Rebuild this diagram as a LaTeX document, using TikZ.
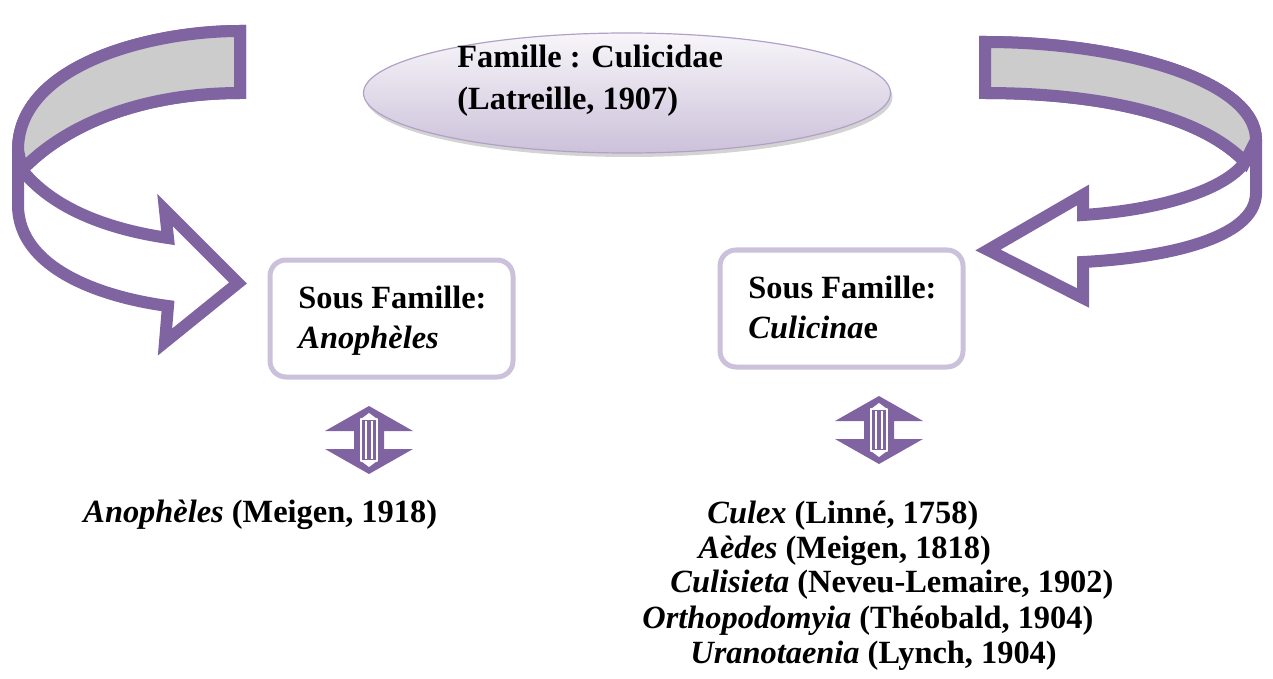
\documentclass[tikz,border=0pt]{standalone}
\usepackage{fontspec}
\setmainfont{Liberation Serif}
\usetikzlibrary{shapes.geometric,shadows}
\definecolor{violetfonce}{HTML}{8064A2}
\definecolor{lilas}{HTML}{CCC1DA}
\definecolor{lilasbord}{HTML}{B2A1C7}
\definecolor{grisruban}{HTML}{CCCCCC}
\tikzset{
	ruban/.style={draw=violetfonce, line width=6pt, line join=miter},
	sousfam/.style={draw=lilas, line width=2.5pt, rounded corners=8pt, fill=white, minimum width=121.5pt, minimum height=58.5pt},
	texte/.style={anchor=base west, inner sep=0pt, font=\fontsize{16.2}{21}\selectfont\bfseries},
}
\begin{document}
\begin{tikzpicture}[x=0.5pt, y=-0.5pt, line join=round]
	\def\fleche#1#2{%
		\begin{scope}[shift={(#1,#2)}]
			\fill[violetfonce] (0,-34)--(44,-9)--(15,-9)--(15,9)--(44,9)--(0,34)--(-44,9)--(-15,9)--(-15,-9)--(-44,-9)--cycle;
			\draw[white, line width=0.7pt] (-8,-21) rectangle (8,21) (-3,-19)--(-3,19) (3,-19)--(3,19);
			\fill[white] (-8,-21)--(0,-27)--(8,-21)--cycle (-8,21)--(0,27)--(8,21)--cycle;
		\end{scope}}
	\useasboundingbox (0,0) rectangle (1273,679);
	% ruban gauche
	\draw[ruban, fill=white] (240,31) .. controls (150,31) and (18,65) .. (18,150) -- (18,205)
		.. controls (18,268) and (100,297) .. (168,306) -- (165,342) -- (238,283) -- (165,210) -- (168,238)
		.. controls (100,228) and (50,205) .. (22,170) .. controls (70,120) and (150,93) .. (240,93) -- cycle;
	\draw[ruban, fill=grisruban] (240,31) .. controls (150,31) and (18,65) .. (18,150) -- (22,170)
		.. controls (70,120) and (150,93) .. (240,93) -- cycle;
	% ruban droit
	\draw[ruban, fill=white] (985,42) .. controls (1120,42) and (1256,80) .. (1256,140) -- (1256,193)
		.. controls (1256,240) and (1160,258) .. (1083,262) -- (1083,298) -- (988,250) -- (1083,195) -- (1083,215)
		.. controls (1160,210) and (1225,190) .. (1245,162) .. controls (1200,115) and (1100,93) .. (985,93) -- cycle;
	\draw[ruban, fill=grisruban] (985,42) .. controls (1120,42) and (1256,80) .. (1256,140) -- (1245,162)
		.. controls (1200,115) and (1100,93) .. (985,93) -- cycle;
	% famille
	\node[ellipse, draw=lilasbord, line width=0.6pt, top color=lilas!15, bottom color=lilas, minimum width=263.5pt, minimum height=60pt,
		drop shadow={shadow xshift=1pt, shadow yshift=-2pt, opacity=0.35}] (famille) at (627,93) {};
	\node[texte] (fam1) at (457,68) {Famille : Culicidae};
	\node[texte] (fam2) at (457,110) {(Latreille, 1907)};
	% sous familles
	\node[sousfam] (anobox) at (391.5,318.5) {};
	\node[texte] (ano1) at (298,308) {Sous Famille:};
	\node[texte] (ano2) at (298,348) {\itshape Anophèles};
	\node[sousfam] (culbox) at (841.5,308.5) {};
	\node[texte] (cul1) at (748,298) {Sous Famille:};
	\node[texte] (cul2) at (748,338) {\textit{Culicina}e};
	\fleche{369}{440}
	\fleche{879}{430}
	% genres
	\node[texte] (g1) at (83,522) {\textit{Anophèles} (Meigen, 1918)};
	\node[texte] (g2) at (707,523) {\textit{Culex} (Linné, 1758)};
	\node[texte] (g3) at (698,558) {\textit{Aèdes} (Meigen, 1818)};
	\node[texte] (g4) at (670,592) {\textit{Culisieta} (Neveu-Lemaire, 1902)};
	\node[texte] (g5) at (642,628) {\textit{Orthopodomyia} (Théobald, 1904)};
	\node[texte] (g6) at (690,663) {\textit{Uranotaenia} (Lynch, 1904)};
\end{tikzpicture}
\end{document}
